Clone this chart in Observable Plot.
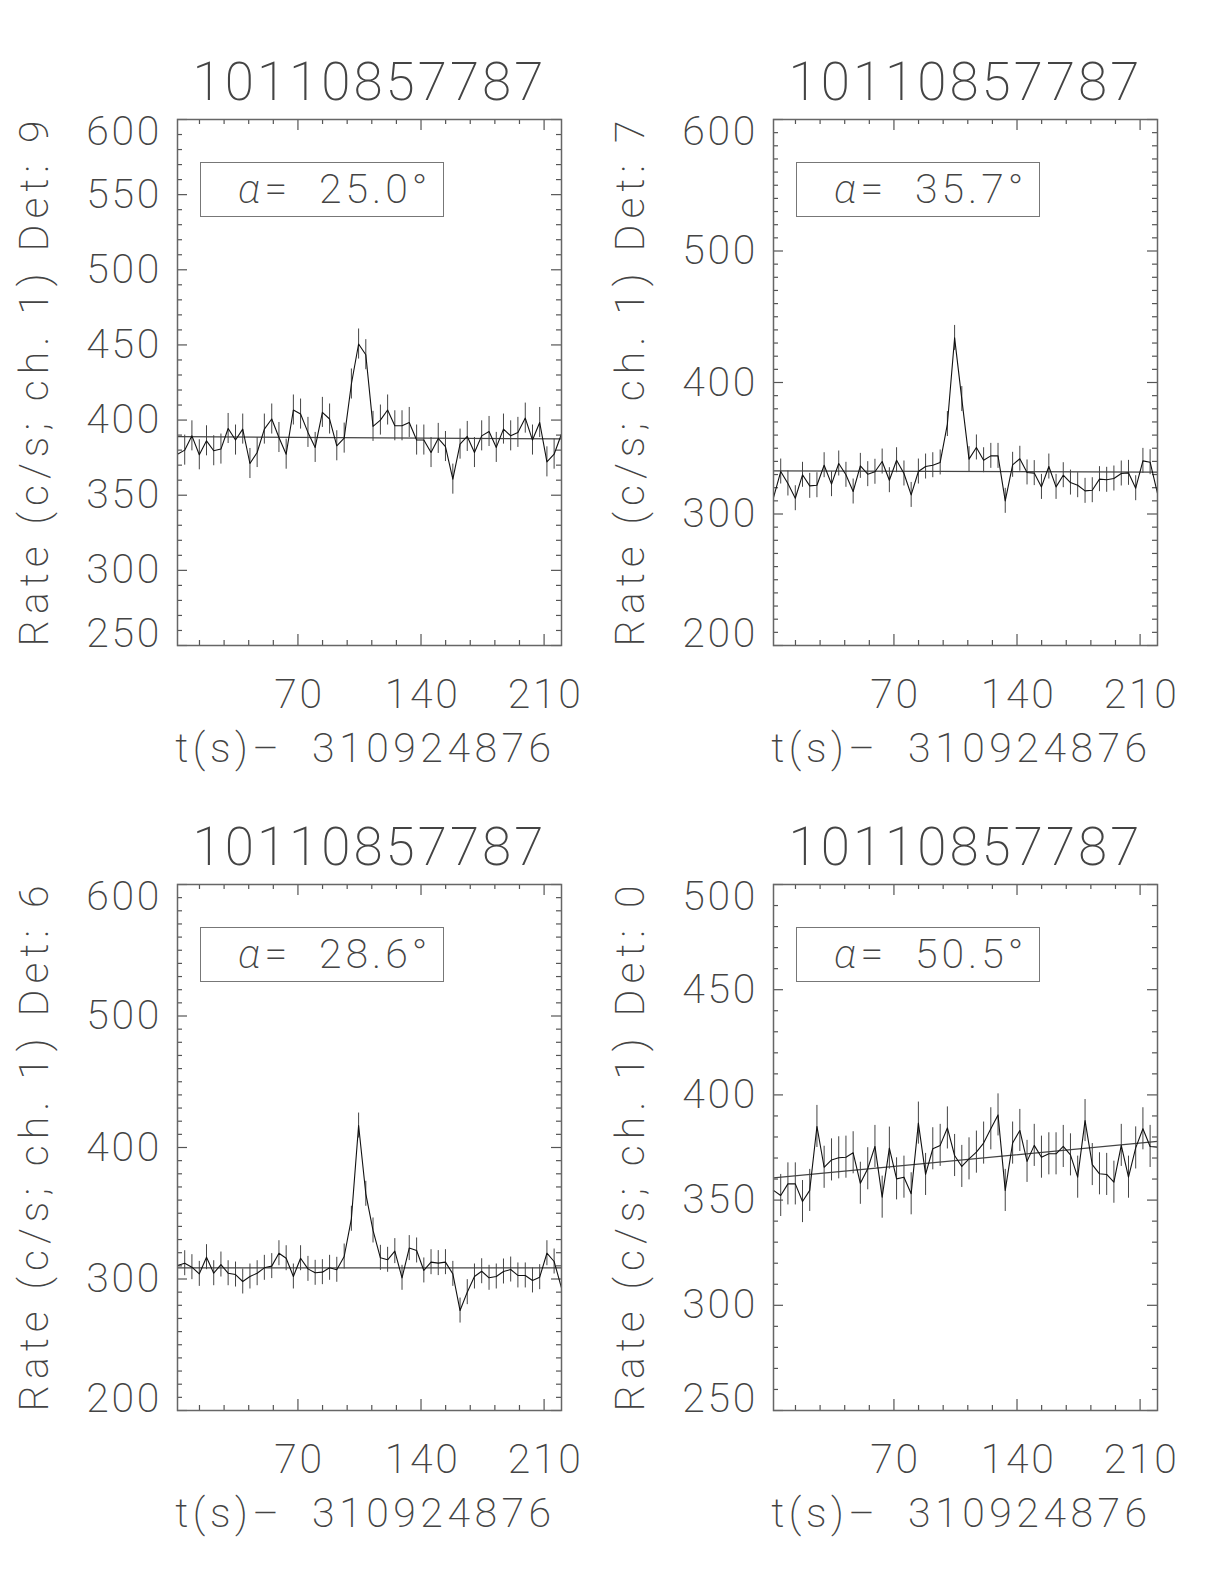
<!DOCTYPE html>
<html><head><meta charset="utf-8">
<script src="https://cdn.jsdelivr.net/npm/d3@7"></script>
<script src="https://cdn.jsdelivr.net/npm/@observablehq/plot@0.6"></script>
<style>
body{margin:0;background:#fff}
#root{position:relative;width:1224px;height:1584px;background:#fff}
.panel{position:absolute;width:596px;height:765px}
.abox{position:absolute;left:200px;top:162px;width:244px;height:55px;border:1.5px solid #777;box-sizing:border-box;
font:200 41px Roboto,"Liberation Sans","DejaVu Sans",sans-serif;line-height:53px;padding-left:37px;color:#444;letter-spacing:4px;white-space:nowrap}
.abox i{font-style:italic}
</style></head><body><div id="root"></div>
<script>
const burstId = "10110857787";
const t0Label = "310924876";
const detectors = [9, 7, 6, 0];
const alphas = ["25.0", "35.7", "28.6", "50.5"];
const times = [1.5, 5.6, 9.7, 13.9, 18.0, 22.1, 26.2, 30.3, 34.5, 38.6, 42.7, 46.8, 50.9, 55.1, 59.2, 63.3, 67.4, 71.5,
  75.7, 79.8, 83.9, 88.0, 92.1, 96.3, 100.4, 104.5, 108.6, 112.7, 116.9, 121.0, 125.1, 129.2, 133.3, 137.5, 141.6, 145.7,
  149.8, 153.9, 158.1, 162.2, 166.3, 170.4, 174.5, 178.7, 182.8, 186.9, 191.0, 195.1, 199.3, 203.4, 207.5, 211.6, 215.7, 219.9];
const rateDet9 = [377.3, 380.0, 389.5, 376.9, 386.2, 379.6, 380.7, 394.4, 386.7, 394.0, 371.1, 378.4, 394.0, 400.7, 388.4, 377.3, 406.7, 404.0,
  391.8, 381.8, 405.1, 400.7, 382.9, 388.0, 424.0, 450.6, 443.5, 395.8, 400.0, 406.7, 396.2, 396.2, 398.4, 386.7, 386.7, 378.4,
  387.8, 382.4, 360.7, 384.0, 389.1, 378.4, 389.5, 392.4, 381.8, 394.0, 389.5, 391.8, 401.3, 386.7, 398.4, 372.2, 377.3, 390.7];
const rateDet7 = [312.5, 332.3, 323.2, 312.0, 329.8, 321.4, 321.9, 337.1, 322.7, 338.4, 329.8, 317.1, 336.6, 330.3, 332.1, 339.9, 325.7, 340.9,
  330.8, 314.5, 332.3, 336.1, 337.1, 339.2, 368.4, 433.9, 387.4, 341.7, 350.6, 340.9, 344.2, 344.2, 310.0, 337.4, 342.0, 331.6,
  331.1, 320.6, 336.1, 320.6, 329.5, 323.9, 321.9, 317.6, 318.1, 326.5, 326.0, 327.0, 330.8, 331.3, 319.6, 340.4, 339.4, 315.6];
const rateDet6 = [310.3, 312.0, 309.0, 303.9, 316.6, 304.4, 311.0, 304.4, 303.4, 298.1, 301.9, 304.4, 308.5, 309.8, 319.6, 315.8, 301.9, 315.8,
  307.7, 304.7, 305.2, 308.5, 307.0, 317.1, 345.8, 416.7, 364.8, 336.9, 316.1, 314.6, 321.2, 300.9, 323.5, 321.7, 306.5, 312.8,
  312.1, 312.8, 303.9, 276.0, 290.0, 301.9, 305.9, 300.9, 301.9, 305.7, 307.2, 302.7, 302.7, 298.9, 301.4, 319.6, 313.3, 293.3];
const rateDet0 = [354.6, 352.2, 357.7, 357.7, 349.3, 354.6, 385.0, 365.6, 369.1, 370.1, 370.4, 372.5, 358.0, 364.9, 375.5, 351.4, 374.7, 360.1,
  360.9, 353.0, 386.6, 362.2, 374.4, 376.0, 384.3, 371.2, 366.0, 369.6, 372.8, 377.1, 383.9, 390.5, 354.6, 377.1, 383.1, 368.4,
  376.0, 370.4, 372.0, 372.0, 375.5, 371.5, 360.9, 387.8, 366.9, 362.5, 362.2, 358.5, 376.0, 360.9, 374.8, 383.9, 375.5, 375.2];
const rates = [rateDet9, rateDet7, rateDet6, rateDet0];
const errHalf = [10, 9.5, 9.5, 10];
const fitStart = [389.0, 332.8, 308.5, 360.6];
const fitEnd = [387.5, 331.8, 308.5, 377.9];
const yDomains = [[250, 600], [200, 600], [200, 600], [250, 500]];
const yTickValues = [[250, 300, 350, 400, 450, 500, 550, 600], [200, 300, 400, 500, 600], [200, 300, 400, 500, 600], [250, 300, 350, 400, 450, 500]];
const xTickValues = [70, 140, 210];
const xMinorValues = [14, 28, 42, 56, 84, 98, 112, 126, 154, 168, 182, 196];

const W = 596, H = 765, mL = 177, mR = 35, mT = 119, mB = 120;
const PW = W - mL - mR, PH = H - mT - mB;
const FONT = "Roboto, 'Liberation Sans', 'DejaVu Sans', sans-serif";
const TXT = {fontFamily: FONT, fontWeight: 200, fill: "#444"};
const offsets = [[0, 0], [596, 0], [0, 765], [596, 765]];

const root = document.getElementById("root");
for (let i = 0; i < 4; i++) {
  const data = times.map((t, j) => ({t, v: rates[i][j]}));
  const fit = [{t: times[0], v: fitStart[i]}, {t: times[times.length - 1], v: fitEnd[i]}];
  const [y0, y1] = yDomains[i];
  const ticks = yTickValues[i];
  const minorY = d3.range(y0, y1 + 0.001, 10).filter(v => !ticks.includes(v));
  const midTicks = ticks.filter(v => v !== y0 && v !== y1);
  const tk = {stroke: "#555", strokeWidth: 1.2};
  const svg = Plot.plot({
    width: W, height: H, marginLeft: mL, marginRight: mR, marginTop: mT, marginBottom: mB,
    x: {domain: [times[0], times[times.length - 1]], axis: null},
    y: {domain: yDomains[i], axis: null},
    style: {background: "transparent", overflow: "visible"},
    marks: [
      Plot.tickX(xTickValues, {x: d => d, insetTop: PH - 11, ...tk}),
      Plot.tickX(xTickValues, {x: d => d, insetBottom: PH - 11, ...tk}),
      Plot.tickX(xMinorValues, {x: d => d, insetTop: PH - 5, ...tk}),
      Plot.tickX(xMinorValues, {x: d => d, insetBottom: PH - 5, ...tk}),
      Plot.tickY(ticks, {y: d => d, insetRight: PW - 10, ...tk}),
      Plot.tickY(ticks, {y: d => d, insetLeft: PW - 10, ...tk}),
      Plot.tickY(minorY, {y: d => d, insetRight: PW - 5, ...tk}),
      Plot.tickY(minorY, {y: d => d, insetLeft: PW - 5, ...tk}),
      Plot.ruleX(data, {x: "t", y1: d => d.v - errHalf[i], y2: d => d.v + errHalf[i], stroke: "#444", strokeWidth: 1}),
      Plot.line(fit, {x: "t", y: "v", stroke: "#444", strokeWidth: 1.2}),
      Plot.line(data, {x: "t", y: "v", stroke: "#111", strokeWidth: 1.1}),
      Plot.frame({stroke: "#666", strokeWidth: 1.5}),
      Plot.text(xTickValues, {x: d => d, text: d => String(d), frameAnchor: "bottom", dx: 1.5, dy: 33, lineAnchor: "top", fontSize: 41, ariaDescription: "tl", ...TXT}),
      Plot.text(midTicks, {y: d => d, text: d => String(d), frameAnchor: "left", dx: -15.5, textAnchor: "end", lineAnchor: "middle", fontSize: 41, ariaDescription: "tl", ...TXT}),
      Plot.text([y1], {y: d => d, text: d => String(d), frameAnchor: "left", dx: -15.5, dy: 12, textAnchor: "end", lineAnchor: "middle", fontSize: 41, ariaDescription: "tl", ...TXT}),
      Plot.text([y0], {y: d => d, text: d => String(d), frameAnchor: "left", dx: -15.5, dy: -12, textAnchor: "end", lineAnchor: "middle", fontSize: 41, ariaDescription: "tl", ...TXT}),
      Plot.text([`t(s)\u2013  ${t0Label}`], {text: d => d, frameAnchor: "bottom", dx: -4, dy: 116, lineAnchor: "bottom", fontSize: 41, ariaDescription: "xl", ...TXT}),
      Plot.text([burstId], {text: d => d, frameAnchor: "top", dy: -20, lineAnchor: "bottom", fontSize: 53, ariaDescription: "title", ...TXT}),
      Plot.text([`Rate (c/s; ch. 1) Det: ${detectors[i]}`], {text: d => d, frameAnchor: "left", dx: -143, dy: -2, rotate: -90, lineAnchor: "middle", textAnchor: "middle", fontSize: 41, ariaDescription: "yl", ...TXT})
    ]
  });
  const sel = d3.select(svg);
  sel.selectAll('[aria-description="tl"] text').style("letter-spacing", "2.7px");
  sel.selectAll('[aria-description="xl"] text').style("letter-spacing", "4.5px").style("white-space", "pre");
  sel.selectAll('[aria-description="title"] text').style("letter-spacing", "3px");
  sel.selectAll('[aria-description="yl"] text').style("letter-spacing", "6px").style("white-space", "pre");
  const div = document.createElement("div");
  div.className = "panel";
  div.style.left = offsets[i][0] + "px";
  div.style.top = offsets[i][1] + "px";
  div.appendChild(svg);
  const box = document.createElement("div");
  box.className = "abox";
  box.innerHTML = `<i>\u03b1</i>=&nbsp; ${alphas[i]}\u00b0`;
  div.appendChild(box);
  root.appendChild(div);
}
</script></body></html>
